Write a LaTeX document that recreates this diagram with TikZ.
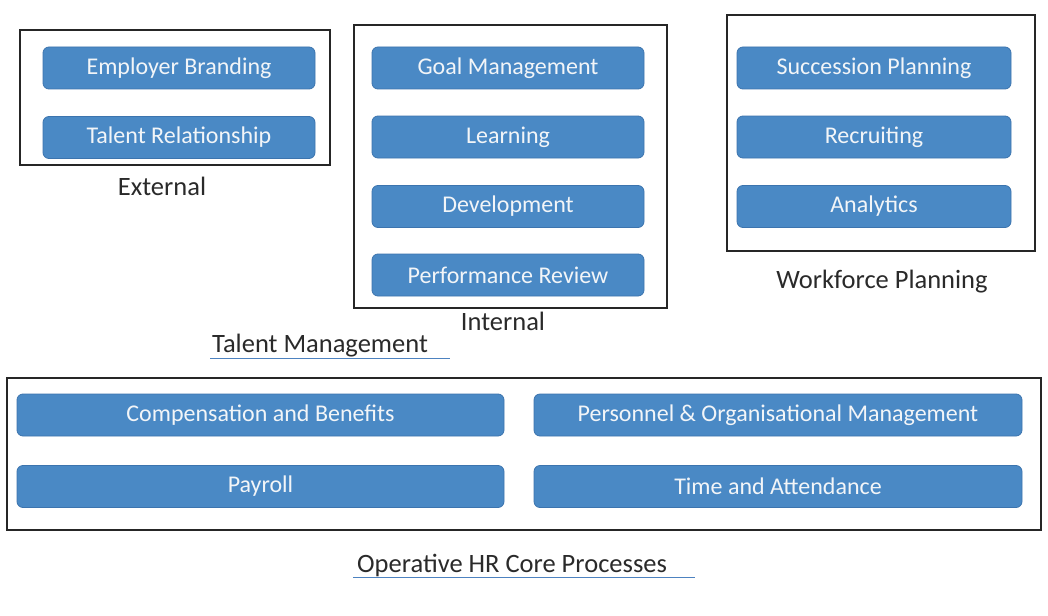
\documentclass[tikz,border=0pt]{standalone}
\usepackage{fontspec}
\setmainfont{Carlito}
\definecolor{boxfill}{HTML}{4A89C5}
\definecolor{boxline}{HTML}{3C74AE}
\definecolor{boxtext}{HTML}{F2F5F8}
\definecolor{labeltext}{HTML}{2A2A2A}
\definecolor{uline}{HTML}{4D82C0}
\begin{document}
\begin{tikzpicture}[x=1pt,y=-1pt,
  item/.style={draw=boxline, line width=0.8pt, fill=boxfill, rounded corners=6pt,
    text=boxtext, font=\fontsize{24}{26}\selectfont, inner sep=0pt, minimum height=42pt},
  frame/.style={draw=black!85, line width=1.3pt, inner sep=0pt},
  grouplabel/.style={text=labeltext, font=\fontsize{26.5}{28}\selectfont, inner sep=0pt}
]
\useasboundingbox[fill=white] (0,0) rectangle (1048,615);

% containers
\node[frame, minimum width=310pt, minimum height=135pt] (extframe) at (175,97.5) {};
\node[frame, minimum width=313pt, minimum height=283pt] (intframe) at (510.5,166.5) {};
\node[frame, minimum width=308pt, minimum height=236pt] (wfpframe) at (881,133) {};
\node[frame, minimum width=1034pt, minimum height=152pt] (coreframe) at (524,454) {};

% External
\node[item, minimum width=272pt] (eb) at (179,68) {Employer Branding};
\node[item, minimum width=272pt] (tr) at (179,137.5) {Talent Relationship};
\node[grouplabel] (ext) at (162,186) {External};

% Internal
\node[item, minimum width=272pt] (gm) at (508,68) {Goal Management};
\node[item, minimum width=272pt] (lr) at (508,137) {Learning};
\node[item, minimum width=272pt] (dv) at (508,206.5) {Development};
\node[item, minimum width=272pt] (pr) at (508,275) {Performance Review};
\node[grouplabel] (int) at (503,321) {Internal};

% Workforce planning
\node[item, minimum width=274pt] (sp) at (874,68) {Succession Planning};
\node[item, minimum width=274pt] (rc) at (874,137) {Recruiting};
\node[item, minimum width=274pt] (an) at (874,206.5) {Analytics};
\node[grouplabel] (wfp) at (882,282) {Workforce Planning};

% Talent management label
\node[grouplabel, anchor=west] (tm) at (212,346) {Talent Management};
\coordinate (tmL) at (210,358);
\coordinate (tmR) at (450,358);
\draw[uline, line width=1pt] (tmL) -- (tmR);

% Core processes
\node[item, minimum width=487pt] (cb) at (260.5,415) {Compensation and Benefits};
\node[item, minimum width=487pt] (pay) at (260.5,486.5) {Payroll};
\node[item, minimum width=488pt] (pom) at (778,415) {Personnel \& Organisational Management};
\node[item, minimum width=488pt] (ta) at (778,486.5) {Time and Attendance};

\node[grouplabel, anchor=west] (core) at (357,565) {Operative HR Core Processes};
\coordinate (coreL) at (353,577);
\coordinate (coreR) at (695,577);
\draw[uline, line width=1pt] (coreL) -- (coreR);
\end{tikzpicture}
\end{document}
